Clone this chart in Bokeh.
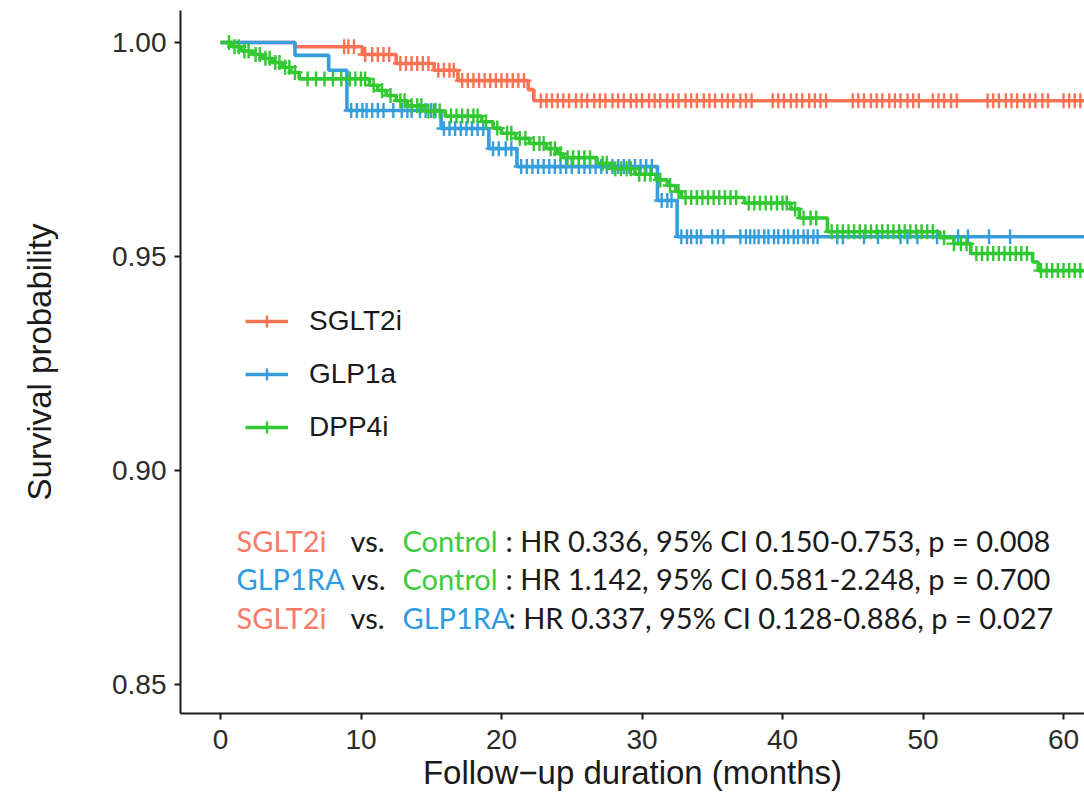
import numpy as np
from bokeh.plotting import figure
from bokeh.models import Range1d, FixedTicker, NumeralTickFormatter, Legend, LegendItem, Label
from bokeh.embed import file_html
from bokeh.resources import INLINE

# ---------------- data ----------------
group_names = ["SGLT2i", "GLP1a", "DPP4i"]

sglt2_time = [0, 5.3, 10.1, 12.5, 15.2, 16.9, 21.9, 22.3]
sglt2_surv = [1.0, 0.9990, 0.9972, 0.9951, 0.9935, 0.9911, 0.9890, 0.9864]
sglt2_censor = [8.8, 9.1, 9.5, 10.3, 10.8, 11.2, 11.6, 12.0, 12.8, 13.2, 13.6, 14.0, 14.4, 14.8,
                15.5, 15.9, 16.3, 16.6, 17.2, 17.6, 18.0, 18.4, 18.8, 19.2, 19.6, 20.0, 20.4,
                20.8, 21.2, 21.6, 22.8, 23.2, 23.6, 24.0, 24.4, 24.8, 25.3, 25.7, 26.1, 26.6,
                27.0, 27.4, 27.9, 28.3, 28.7, 29.2, 29.6, 30.0, 30.5, 30.9, 31.3, 31.8, 32.2,
                32.6, 33.1, 33.5, 33.9, 34.4, 34.8, 35.2, 35.7, 36.1, 36.5, 37.0, 37.4, 37.8,
                39.3, 39.7, 40.1, 40.6, 41.0, 41.4, 41.9, 42.3, 42.7, 43.1, 45.0, 45.4, 45.8,
                46.3, 46.7, 47.1, 47.6, 48.0, 48.4, 48.9, 49.3, 49.7, 50.7, 51.1, 51.5, 52.0,
                52.4, 54.6, 55.0, 55.4, 55.9, 56.3, 56.7, 57.2, 57.6, 58.0, 58.5, 58.9, 60.0,
                60.4, 60.8, 61.2]

glp1_time = [0, 5.3, 7.7, 9.0, 15.7, 19.1, 21.1, 31.1, 32.5]
glp1_surv = [1.0, 0.9970, 0.9935, 0.9841, 0.9799, 0.9752, 0.9710, 0.9631, 0.9546]
glp1_censor = [9.3, 9.7, 10.1, 10.4, 10.8, 11.2, 11.6, 12.3, 12.9, 13.3, 13.6, 14.2, 14.6, 15.0,
               15.3, 15.9, 16.3, 16.7, 17.1, 17.5, 17.9, 18.3, 18.7, 19.4, 19.8, 20.3, 20.7,
               21.4, 21.8, 22.2, 22.6, 23.0, 23.4, 23.8, 24.2, 24.6, 25.0, 25.5, 25.9, 26.3,
               26.7, 27.1, 27.5, 27.9, 28.3, 28.7, 29.1, 29.5, 29.9, 30.3, 30.7, 31.4, 31.8,
               32.1, 32.8, 33.2, 33.5, 33.9, 34.2, 35.0, 35.4, 35.8, 37.0, 37.4, 37.7, 38.0,
               38.3, 38.7, 39.0, 39.4, 39.7, 40.1, 40.4, 40.8, 41.1, 41.5, 41.8, 42.2, 42.5,
               43.9, 44.3, 45.8, 46.8, 48.4, 48.9, 49.6, 51.0, 52.5, 53.2, 54.7, 56.2]

dpp4_time = [0, 0.8, 1.5, 2.3, 3.0, 3.7, 4.4, 5.0, 5.6, 10.6, 11.2, 11.8, 12.5, 13.3, 14.5,
             16.0, 18.6, 19.4, 20.0, 21.0, 22.0, 23.2, 24.0, 24.4, 26.8, 27.8, 29.5, 31.0,
             31.8, 32.4, 32.8, 37.3, 40.6, 41.2, 43.2, 51.2, 52.2, 53.4, 57.8, 58.2]
dpp4_surv = [1.0, 0.9990, 0.9980, 0.9972, 0.9963, 0.9953, 0.9942, 0.9930, 0.9915, 0.9900,
             0.9888, 0.9876, 0.9864, 0.9852, 0.9840, 0.9828, 0.9815, 0.9800, 0.9788, 0.9776,
             0.9764, 0.9752, 0.9740, 0.9731, 0.9718, 0.9705, 0.9692, 0.9679, 0.9666, 0.9652,
             0.9638, 0.9625, 0.9611, 0.9590, 0.9558, 0.9544, 0.9530, 0.9507, 0.9487, 0.9467]
dpp4_censor = [0.6, 1.0, 1.3, 1.7, 2.0, 2.5, 2.8, 3.2, 3.5, 3.9, 4.2, 4.6, 4.9, 5.3, 6.2, 6.8,
               7.4, 8.0, 8.6, 9.2, 9.6, 10.0, 10.3, 10.9, 11.5, 12.1, 12.8, 13.1, 13.6, 14.0,
               14.3, 14.8, 15.2, 15.6, 16.4, 16.8, 17.2, 17.6, 18.0, 18.3, 18.9, 19.7, 20.4,
               20.7, 21.3, 21.7, 22.3, 22.7, 23.0, 23.5, 23.8, 24.2, 24.7, 25.1, 25.5, 25.9,
               26.3, 27.2, 27.5, 28.1, 28.5, 28.9, 29.2, 29.8, 30.2, 30.6, 31.3, 32.0, 32.6,
               33.1, 33.5, 33.9, 34.3, 34.7, 35.1, 35.5, 35.9, 36.3, 36.7, 37.6, 38.0, 38.4,
               38.8, 39.2, 39.6, 40.0, 40.3, 40.9, 41.5, 42.0, 42.4, 43.5, 43.9, 44.3, 44.7,
               45.1, 45.5, 45.9, 46.3, 46.7, 47.1, 47.5, 47.9, 48.3, 48.7, 49.1, 49.5, 49.9,
               50.3, 50.7, 51.5, 52.2, 52.7, 53.1, 53.8, 54.2, 54.6, 55.0, 55.4, 55.8, 56.2,
               56.6, 57.0, 57.4, 58.4, 58.8, 59.2, 59.6, 60.0, 60.4, 60.8, 61.2]

follow_up_end = 62.0

x_ticks = [0, 10, 20, 30, 40, 50, 60]
y_ticks = [0.85, 0.90, 0.95, 1.00]

ann_rows = [
    [("SGLT2i", "red"), ("vs.", "black"), ("Control", "green"),
     (": HR 0.336, 95% CI 0.150-0.753, p = 0.008", "black")],
    [("GLP1RA", "blue"), ("vs.", "black"), ("Control", "green"),
     (": HR 1.142, 95% CI 0.581-2.248, p = 0.700", "black")],
    [("SGLT2i", "red"), ("vs.", "black"), ("GLP1RA", "blue"),
     (": HR 0.337, 95% CI 0.128-0.886, p = 0.027", "black")],
]

# ---------------- styling ----------------
COL = {"red": "#FB7254", "blue": "#379EDD", "green": "#31C831", "black": "#1a1a1a"}
TXT = {"red": "#F97A66", "blue": "#2F9BE3", "green": "#3CCB3C", "black": "#1a1a1a"}

W, H = 1084, 798
FL, FT, FB = 180, 10, 85          # frame borders (px)
PX_PER_X = 14.05                  # px per month
PX_PER_Y = 4280.0                 # px per survival unit
X0_PX = 220                       # pixel of t=0
Y1_PX = 42                        # pixel of S=1.00

x_start = -(X0_PX - FL) / PX_PER_X
x_end = x_start + (W - FL) / PX_PER_X
y_end = 1.0 + (Y1_PX - FT) / PX_PER_Y
y_start = y_end - (H - FT - FB) / PX_PER_Y

p = figure(width=W, height=H, output_backend="svg", toolbar_location=None,
           x_range=Range1d(x_start, x_end), y_range=Range1d(y_start, y_end),
           min_border_left=FL, min_border_right=0, min_border_top=FT, min_border_bottom=FB)
p.outline_line_color = None
p.xgrid.grid_line_color = None
p.ygrid.grid_line_color = None
p.background_fill_color = "white"
p.border_fill_color = "white"


def step_value(times, surv, t):
    idx = np.searchsorted(np.asarray(times), np.asarray(t), side="right") - 1
    return np.asarray(surv)[idx]


series = [
    (group_names[0], sglt2_time, sglt2_surv, sglt2_censor, COL["red"]),
    (group_names[1], glp1_time, glp1_surv, glp1_censor, COL["blue"]),
    (group_names[2], dpp4_time, dpp4_surv, dpp4_censor, COL["green"]),
]

items = []
for name, times, surv, cens, color in series:
    xs = list(times) + [follow_up_end]
    ys = list(surv) + [surv[-1]]
    lr = p.step(xs, ys, mode="after", line_color=color, line_width=3.6)
    cy = step_value(times, surv, cens)
    sr = p.scatter(cens, cy, marker="cross", size=15, line_color=color, line_width=2.4)
    items.append(LegendItem(label=name, renderers=[lr, sr]))

legend = Legend(items=items, location=(65, 270), orientation="vertical",
                label_text_font="Liberation Sans", label_text_font_size="28px",
                label_text_color="#1a1a1a", glyph_width=43, glyph_height=30,
                label_height=30, spacing=21, label_standoff=21, padding=0, margin=0,
                border_line_alpha=0, background_fill_alpha=0)
p.add_layout(legend)

# axes
for ax in (p.xaxis[0], p.yaxis[0]):
    ax.axis_line_color = "#1a1a1a"
    ax.axis_line_width = 2
    ax.major_tick_line_color = "#1a1a1a"
    ax.major_tick_line_width = 2
    ax.major_tick_out = 6
    ax.major_tick_in = 0
    ax.minor_tick_line_color = None
    ax.major_label_text_font = "Liberation Sans"
    ax.major_label_text_font_size = "28px"
    ax.major_label_text_color = "#2b2b2b"
    ax.axis_label_text_font = "Liberation Sans"
    ax.axis_label_text_font_size = "33px"
    ax.axis_label_text_font_style = "normal"
    ax.axis_label_text_color = "#1a1a1a"

p.xaxis.ticker = FixedTicker(ticks=x_ticks)
p.yaxis.ticker = FixedTicker(ticks=y_ticks)
p.yaxis.formatter = NumeralTickFormatter(format="0.00")
p.xaxis.axis_label = "Follow\u2212up duration (months)"
p.yaxis.axis_label = "Survival probability"
p.xaxis.major_label_standoff = 10
p.yaxis.major_label_standoff = 8
p.xaxis.axis_label_standoff = 2
p.yaxis.axis_label_standoff = 51

# annotation text rows (positions in px converted to data)
row_px_y = [540, 578, 617]
col_px_x = [[236, 350, 402, 505], [236, 351, 402, 505], [236, 350, 402, 508]]
for r, row in enumerate(ann_rows):
    yd = 1.0 - (row_px_y[r] - Y1_PX) / PX_PER_Y
    for c, (txt, ckey) in enumerate(row):
        xd = (col_px_x[r][c] - X0_PX) / PX_PER_X
        p.add_layout(Label(x=xd, y=yd, text=txt, text_font="Lato", text_font_size="29px",
                           text_color=TXT[ckey], text_baseline="middle", text_align="left"))

open("out.html", "w").write(file_html(p, INLINE))
